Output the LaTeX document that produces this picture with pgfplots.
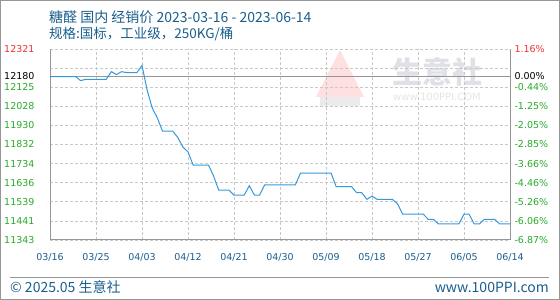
\documentclass[border=0pt]{standalone}
\usepackage{pgfplots}
\pgfplotsset{compat=1.18}
\usepackage{fontspec}
\setmainfont{DejaVu Sans}
\newfontfamily\cjk{Noto Sans CJK SC}
\definecolor{ttl}{RGB}{26,94,140}
\definecolor{grn}{RGB}{40,170,40}
\definecolor{rd}{RGB}{240,50,50}
\definecolor{ln}{RGB}{52,152,219}
\definecolor{ax}{RGB}{150,150,150}
\definecolor{gr}{RGB}{200,200,200}
\begin{document}
\begin{tikzpicture}[x=1pt,y=1pt]
\useasboundingbox (0,0) rectangle (560,300);
\draw[ax,line width=1pt] (0.5,0.5) rectangle (559.5,299.5);
% title
\node[anchor=west,text=ttl,inner sep=0] at (49,283) {\cjk\fontsize{14}{15}\selectfont 糖醛 国内 经销价 2023-03-16 - 2023-06-14};
\node[anchor=west,text=ttl,inner sep=0] at (49,266) {\cjk\fontsize{13.5}{15}\selectfont 规格:国标，工业级，250KG/桶};
% watermark
\fill[red!12] (316,203) -- (340,250) -- (364,203) -- cycle;
\fill[black!8] (320,194) rectangle (360,203);
\node[text=blue!20!black!12,inner sep=0] at (437,228) {\cjk\fontsize{30}{32}\selectfont\bfseries 生意社};
\node[text=black!10,inner sep=0] at (437,203) {\fontsize{10}{11}\selectfont www.100PPI.COM};
% footer
\draw[ax,line width=0.8pt] (10,23) -- (549,23);
\node[anchor=west,text=ttl,inner sep=0] at (10,12.5) {\cjk\fontsize{14}{15}\selectfont © 2025.05 生意社};
\node[anchor=east,text=ttl,inner sep=0] at (549,12.5) {\cjk\fontsize{14}{15}\selectfont www.100PPI.com};
\begin{axis}[
  at={(50pt,60pt)}, anchor=south west,
  width=460pt, height=191pt, scale only axis,
  xmin=0, xmax=90, ymin=11343, ymax=12321,
  scaled y ticks=false,
  axis x line*=bottom, axis y line*=left,
  axis line style={ax,line width=1pt},
  x axis line style={-}, y axis line style={-},
  xtick={0,9,...,90},
  xticklabels={03/16,03/25,04/03,04/12,04/21,04/30,05/09,05/18,05/27,06/05,06/14},
  ytick={11343,11441,11539,11636,11734,11832,11930,12028,12125,12223,12321},
  yticklabels={\textcolor{grn}{11343},\textcolor{grn}{11441},\textcolor{grn}{11539},\textcolor{grn}{11636},\textcolor{grn}{11734},\textcolor{grn}{11832},\textcolor{grn}{11930},\textcolor{grn}{12028},\textcolor{grn}{12125},{},\textcolor{rd}{12321}},
  extra y ticks={12180}, extra y tick labels={12180},
  extra y tick style={grid=none, yticklabel style={text=black}},
  major tick length=0pt,
  grid=major,
  major grid style={gr, dashed, dash pattern=on 3pt off 2pt, line width=0.7pt},
  tick label style={font=\fontsize{9.5}{10}\selectfont},
  xticklabel style={text=ttl, yshift=-10pt},
  yticklabel style={xshift=-12pt},
  /pgf/number format/assume math mode=true,
  clip=false,
]
\addplot[ax, line width=1.2pt, forget plot] coordinates {(0,12180) (90,12180)};
\addplot[ln, line width=1pt, mark=none] coordinates {
(0,12180)(1,12180)(2,12180)(3,12180)(4,12180)(5,12180)(6,12159)(7,12166)(8,12166)(9,12166)(10,12166)(11,12166)
(12,12205)(13,12190)(14,12205)(15,12200)(16,12200)(17,12200)(18,12237)(19,12111)(20,12019)(21,11968)
(22,11901)(23,11901)(24,11901)(25,11868)(26,11819)(27,11794)(28,11727)(29,11727)(30,11727)(31,11727)
(32,11671)(33,11599)(34,11599)(35,11599)(36,11573)(37,11573)(38,11573)(39,11621)(40,11573)(41,11573)
(42,11625)(43,11625)(44,11625)(45,11625)(46,11625)(47,11625)(48,11625)(49,11685)(50,11685)(51,11685)
(52,11685)(53,11685)(54,11685)(55,11685)(56,11616)(57,11616)(58,11616)(59,11616)(60,11585)(61,11585)
(62,11551)(63,11568)(64,11551)(65,11551)(66,11551)(67,11551)(68,11528)(69,11476)(70,11476)(71,11476)
(72,11476)(73,11476)(74,11449)(75,11449)(76,11425)(77,11425)(78,11425)(79,11425)(80,11425)(81,11475)
(82,11475)(83,11425)(84,11425)(85,11449)(86,11449)(87,11449)(88,11425)(89,11425)(90,11425)};
\end{axis}
\begin{axis}[
  at={(50pt,60pt)}, anchor=south west,
  width=460pt, height=191pt, scale only axis,
  xmin=0, xmax=90, ymin=11343, ymax=12321,
  scaled y ticks=false,
  axis x line=none, axis y line*=right,
  axis line style={ax,line width=1pt}, y axis line style={-},
  ytick={11343,11441,11539,11636,11734,11832,11930,12028,12125,12321},
  yticklabels={\textcolor{grn}{-6.87\%},\textcolor{grn}{-6.06\%},\textcolor{grn}{-5.26\%},\textcolor{grn}{-4.46\%},\textcolor{grn}{-3.66\%},\textcolor{grn}{-2.85\%},\textcolor{grn}{-2.05\%},\textcolor{grn}{-1.25\%},\textcolor{grn}{-0.44\%},\textcolor{rd}{1.16\%}},
  extra y ticks={12180}, extra y tick labels={0.00\%},
  extra y tick style={yticklabel style={text=black}},
  major tick length=0pt,
  tick label style={font=\fontsize{9.5}{10}\selectfont},
  yticklabel style={xshift=1pt},
  /pgf/number format/assume math mode=true,
]
\addplot[draw=none, forget plot] coordinates {(0,12180) (90,12180)};
\end{axis}
\end{tikzpicture}
\end{document}
